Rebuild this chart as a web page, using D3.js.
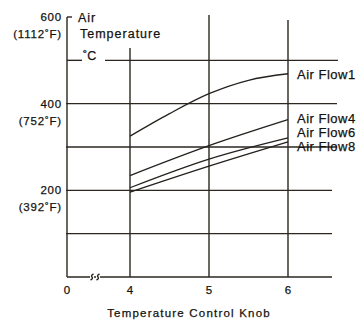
<!DOCTYPE html>
<html lang="en">
<head>
<meta charset="utf-8">
<title>Air Temperature</title>
<style>
  body { margin: 0; background: #fff; }
  svg text { font-family: "Liberation Sans", Arial, sans-serif; fill: #14120f; stroke: #14120f; stroke-width: 0.25; }
  .grid { stroke: #2b2620; stroke-width: 1.4; fill: none; }
  .curve { stroke: #24211d; stroke-width: 1.3; fill: none; }
</style>
</head>
<body>
<div id="chart"></div>
<script src="https://cdn.jsdelivr.net/npm/d3@7"></script>
<script>
// data (deg C vs knob position)
var knobTicks = [0, 4, 5, 6];
var tempTicks = [200, 400, 600];
var tempTicksF = ["(392˚F)", "(752˚F)", "(1112˚F)"];
var gridTemps = [100, 200, 300, 400, 500];

var flow1Knob = [4, 4.5, 5, 5.5, 6];
var flow1Temp = [325, 377, 423, 454, 469];
var knob3 = [4, 5, 6];
var flow4Temp = [234, 303, 363];
var flow6Temp = [206, 272, 321];
var flow8Temp = [196, 256, 312];

var seriesNames = ["Air Flow1", "Air Flow4", "Air Flow6", "Air Flow8"];
var labelY = [74, 118, 132, 146];

var width = 358, height = 322;

var svg = d3.select("#chart").append("svg")
    .attr("width", width)
    .attr("height", height);

// broken x axis: 0 sits close to 4
var x = d3.scaleLinear().domain([0, 4, 6]).range([67, 130, 288]);
var y = d3.scaleLinear().domain([0, 600]).range([277, 17]);
var xRight = 335;

// horizontal grid
gridTemps.forEach(function(t) {
  if (t === 500) {
    svg.append("line").attr("class", "grid")
      .attr("x1", x(0)).attr("x2", 82).attr("y1", y(t)).attr("y2", y(t));
    svg.append("line").attr("class", "grid")
      .attr("x1", 105).attr("x2", xRight + 3).attr("y1", y(t)).attr("y2", y(t));
  } else {
    svg.append("line").attr("class", "grid")
      .attr("x1", x(0) - 1).attr("x2", xRight + (t >= 300 ? 2 : -3)).attr("y1", y(t)).attr("y2", y(t));
  }
});

// vertical grid
var vTop = {4: 48, 5: 15, 6: 20};
[4, 5, 6].forEach(function(k) {
  svg.append("line").attr("class", "grid")
    .attr("x1", x(k)).attr("x2", x(k)).attr("y1", vTop[k]).attr("y2", y(0));
});

// axes
svg.append("line").attr("class", "grid")
  .attr("x1", x(0)).attr("x2", x(0)).attr("y1", y(600)).attr("y2", y(0));
svg.append("line").attr("class", "grid")
  .attr("x1", x(0)).attr("x2", x(0) + 5).attr("y1", y(600)).attr("y2", y(600));
svg.append("line").attr("class", "grid")
  .attr("x1", x(0)).attr("x2", xRight - 3).attr("y1", y(0)).attr("y2", y(0));

// break marks
[92, 98].forEach(function(cx) {
  var cy = y(0);
  svg.append("rect").attr("x", cx - 2).attr("y", cy - 1).attr("width", 4).attr("height", 2).attr("fill", "#fff");
  svg.append("path").attr("class", "grid").attr("stroke-width", 1.1)
    .attr("d", "M" + (cx - 1.5) + "," + (cy + 3) + " Q" + (cx + 1.5) + "," + (cy + 1.5) + " " + cx + "," + cy +
               " Q" + (cx - 1.5) + "," + (cy - 1.5) + " " + (cx + 1.5) + "," + (cy - 3));
});

// y tick labels
tempTicks.forEach(function(t, i) {
  svg.append("text").attr("x", 62).attr("y", y(t) + 4)
    .attr("text-anchor", "end").attr("font-size", 11.5).attr("letter-spacing", 0.8)
    .text(t);
  svg.append("text").attr("x", 62).attr("y", y(t) + 21)
    .attr("text-anchor", "end").attr("font-size", 11.5).attr("letter-spacing", 0.8)
    .text(tempTicksF[i]);
});

// x tick labels
knobTicks.forEach(function(k) {
  svg.append("text").attr("x", x(k)).attr("y", 294)
    .attr("text-anchor", "middle").attr("font-size", 11.5)
    .text(k);
});

svg.append("text").attr("x", 189).attr("y", 317)
  .attr("text-anchor", "middle").attr("font-size", 11.5).attr("letter-spacing", 1.2)
  .text("Temperature  Control  Knob");

// axis title
svg.append("text").attr("x", 78).attr("y", 22).attr("font-size", 12.5).attr("letter-spacing", 1).text("Air");
svg.append("text").attr("x", 80).attr("y", 38).attr("font-size", 12.5).attr("letter-spacing", 1).text("Temperature");
svg.append("text").attr("x", 83).attr("y", 60).attr("font-size", 12.5).text("˚C");

// curves
var line = d3.line()
  .x(function(d) { return x(d[0]); })
  .y(function(d) { return y(d[1]); })
  .curve(d3.curveMonotoneX);

var series = [
  d3.zip(flow1Knob, flow1Temp),
  d3.zip(knob3, flow4Temp),
  d3.zip(knob3, flow6Temp),
  d3.zip(knob3, flow8Temp)
];

svg.selectAll(".curve").data(series).enter().append("path")
  .attr("class", "curve")
  .attr("d", line);

svg.selectAll(".flowlabel").data(seriesNames).enter().append("text")
  .attr("class", "flowlabel")
  .attr("x", 297)
  .attr("y", function(d, i) { return labelY[i] + 4.5; })
  .attr("font-size", 13)
  .attr("letter-spacing", 0.5)
  .text(function(d) { return d; });
</script>
</body>
</html>
